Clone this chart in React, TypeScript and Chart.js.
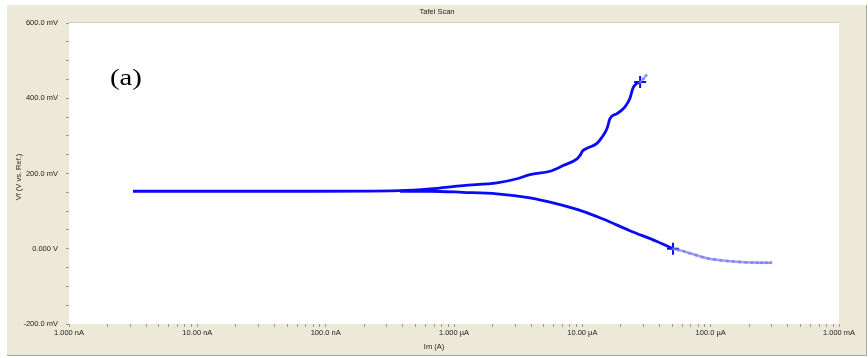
import React, { useEffect, useRef } from "react";
import { Chart, registerables } from "chart.js";

Chart.register(...registerables);

// ---- text ----
const TITLE = "Tafel Scan";
const X_TITLE = "Im (A)";
const Y_TITLE = "Vf (V vs. Ref.)";
const PANEL_LABEL = "(a)";

// ---- tick labels ----
const X_DECADES = [1e-9, 1e-8, 1e-7, 1e-6, 1e-5, 1e-4, 1e-3];
const X_TICK_LABELS = ["1.000 nA", "10.00 nA", "100.0 nA", "1.000 µA", "10.00 µA", "100.0 µA", "1.000 mA"];
const Y_TICK_VALUES = [-200, 0, 200, 400, 600];
const Y_TICK_LABELS = ["-200.0 mV", "0.000 V", "200.0 mV", "400.0 mV", "600.0 mV"];

// ---- series (current in A, potential in mV) ----
const ANODIC_I = [3.15e-9, 1.05e-8, 6.31e-8, 3.8e-7, 6.5e-7, 1.175e-6, 2.16e-6, 3.1e-6, 3.91e-6, 5.6e-6, 7.07e-6, 9.09e-6, 9.59e-6, 1.012e-5, 1.087e-5, 1.3e-5, 1.42e-5, 1.56e-5, 1.64e-5, 1.86e-5, 2.15e-5, 2.35e-5, 2.48e-5, 2.67e-5, 2.82e-5];
const ANODIC_MV = [152.8, 152.8, 152.8, 154.5, 159, 168, 175, 186, 197, 206, 221, 239, 248, 261, 267, 280, 296, 320, 346, 359, 377, 400, 427, 440, 443];

const CATHODIC_I = [3.8e-7, 6.5e-7, 1.175e-6, 2.16e-6, 3.91e-6, 6.35e-6, 1.012e-5, 1.45e-5, 2.35e-5, 3.82e-5, 5.09e-5];
const CATHODIC_MV = [152.8, 152.8, 150, 146, 135, 119, 99.5, 79, 48, 19.5, 0];

const CATH_TAIL_I = [5.09e-5, 5.6e-5, 6.2e-5, 6.9e-5, 7.7e-5, 8.6e-5, 9.6e-5, 1.07e-4, 1.2e-4, 1.35e-4, 1.5e-4, 1.68e-4, 1.88e-4, 2.1e-4, 2.3e-4, 2.5e-4, 2.72e-4, 2.95e-4];
const CATH_TAIL_MV = [0, -3, -7, -12, -17, -22, -26, -28.5, -30.5, -32.5, -34, -35, -36, -36.5, -37, -37, -37, -37];

const ANOD_TAIL_I = [2.82e-5, 3.0e-5, 3.14e-5];
const ANOD_TAIL_MV = [443, 452, 461];

const MARKER_I = [5.09e-5, 2.82e-5];
const MARKER_MV = [0, 443];

const zip = (xs: number[], ys: number[]) => xs.map((x, i) => ({ x, y: ys[i] }));

const BEIGE = "#ECE9D8";
const DARK = "#0a0af5";
const LIGHT = "rgba(120,120,240,0.7)";

export default function App() {
  const ref = useRef<HTMLCanvasElement | null>(null);

  useEffect(() => {
    const canvas = ref.current;
    if (!canvas) return;

    const minorTicks: number[] = [];
    for (let k = -9; k < -3; k++) {
      for (let m = 1; m <= 9; m++) minorTicks.push(m * Math.pow(10, k));
    }
    minorTicks.push(1e-3);

    const frame = {
      id: "frame",
      beforeDraw(chart: any) {
        const { ctx, chartArea: a } = chart;
        ctx.save();
        ctx.fillStyle = "#ffffff";
        ctx.fillRect(0, 0, chart.width, chart.height);
        ctx.fillStyle = BEIGE;
        ctx.fillRect(7, 5, 860, 351);
        ctx.fillStyle = "#ffffff";
        ctx.fillRect(a.left, a.top, a.right - a.left, a.bottom - a.top);
        ctx.strokeStyle = "#a8a6a0";
        ctx.lineWidth = 1;
        ctx.beginPath();
        ctx.moveTo(866.5, 5);
        ctx.lineTo(866.5, 355.5);
        ctx.lineTo(7, 355.5);
        ctx.stroke();
        ctx.strokeStyle = "#cfccc0";
        ctx.beginPath();
        ctx.moveTo(a.left, a.top - 0.5);
        ctx.lineTo(a.right, a.top - 0.5);
        ctx.stroke();
        ctx.restore();
      },
      afterDraw(chart: any) {
        const { ctx } = chart;
        ctx.save();
        ctx.fillStyle = "#222";
        ctx.font = '7.5px "Liberation Sans", Arial, sans-serif';
        ctx.textAlign = "center";
        ctx.textBaseline = "middle";
        ctx.fillText(TITLE, 437, 12);
        ctx.fillText(X_TITLE, 434, 347);
        ctx.save();
        ctx.translate(18.5, 177);
        ctx.rotate(-Math.PI / 2);
        ctx.fillText(Y_TITLE, 0, 0);
        ctx.restore();
        ctx.fillStyle = "#000";
        ctx.font = '23px "Liberation Serif", "Times New Roman", serif';
        ctx.textAlign = "left";
        ctx.textBaseline = "alphabetic";
        ctx.save();
        ctx.translate(110, 85);
        ctx.scale(1.25, 1);
        ctx.fillText(PANEL_LABEL, 0, 0);
        ctx.restore();
        ctx.restore();
      },
    };

    const tickFont = { family: '"Liberation Sans", Arial, sans-serif', size: 7.5 };

    const chart = new Chart(canvas, {
      type: "scatter",
      data: {
        datasets: [
          {
            data: zip(CATH_TAIL_I, CATH_TAIL_MV),
            showLine: true,
            borderColor: LIGHT,
            backgroundColor: LIGHT,
            borderWidth: 2.5,
            pointRadius: 1.6,
            pointBorderWidth: 0,
            cubicInterpolationMode: "monotone",
          },
          {
            data: zip(ANOD_TAIL_I, ANOD_TAIL_MV),
            showLine: true,
            borderColor: LIGHT,
            backgroundColor: LIGHT,
            borderWidth: 2,
            pointRadius: 1.6,
            pointBorderWidth: 0,
          },
          {
            data: zip(CATHODIC_I, CATHODIC_MV),
            showLine: true,
            borderColor: DARK,
            backgroundColor: DARK,
            borderWidth: 2.8,
            pointRadius: 0,
            cubicInterpolationMode: "monotone",
          },
          {
            data: zip(ANODIC_I, ANODIC_MV),
            showLine: true,
            borderColor: DARK,
            backgroundColor: DARK,
            borderWidth: 2.8,
            pointRadius: 0,
            cubicInterpolationMode: "monotone",
          },
          {
            data: zip(MARKER_I, MARKER_MV),
            showLine: false,
            borderColor: DARK,
            backgroundColor: DARK,
            pointStyle: "cross",
            pointRadius: 6,
            pointBorderWidth: 2,
          },
        ],
      },
      options: {
        responsive: false,
        animation: false,
        devicePixelRatio: 1,
        layout: { padding: { left: 7, top: 23, right: 29, bottom: 0 } },
        plugins: {
          legend: { display: false },
          tooltip: { enabled: false },
          title: { display: false },
        },
        scales: {
          x: {
            type: "logarithmic",
            min: 1e-9,
            max: 1e-3,
            afterBuildTicks: (scale: any) => {
              scale.ticks = minorTicks.map((v) => ({ value: v }));
            },
            afterFit: (scale: any) => {
              scale.height = 34;
            },
            grid: { display: true, drawOnChartArea: false, drawTicks: true, tickLength: 3, color: "#9a9a9a" },
            border: { display: false },
            ticks: {
              autoSkip: false,
              maxRotation: 0,
              minRotation: 0,
              padding: 1,
              color: "#222",
              font: tickFont,
              callback: (value: any) => {
                const v = Number(value);
                const i = X_DECADES.findIndex((d) => Math.abs(d - v) / d < 1e-6);
                return i >= 0 ? X_TICK_LABELS[i] : "";
              },
            },
          },
          y: {
            type: "linear",
            min: -200,
            max: 600,
            afterFit: (scale: any) => {
              scale.width = 62;
            },
            grid: { display: true, drawOnChartArea: false, drawTicks: true, tickLength: 3, color: "#9a9a9a" },
            border: { display: false },
            ticks: {
              stepSize: 50,
              autoSkip: false,
              padding: 8,
              color: "#222",
              font: tickFont,
              callback: (value: any) => {
                const i = Y_TICK_VALUES.indexOf(Number(value));
                return i >= 0 ? Y_TICK_LABELS[i] : "";
              },
            },
          },
        },
      },
      plugins: [frame],
    } as any);

    return () => chart.destroy();
  }, []);

  return (
    <div style={{ position: "fixed", left: 0, top: 0, width: 868, height: 358 }}>
      <canvas ref={ref} width={868} height={358} style={{ width: 868, height: 358, display: "block" }} />
    </div>
  );
}
